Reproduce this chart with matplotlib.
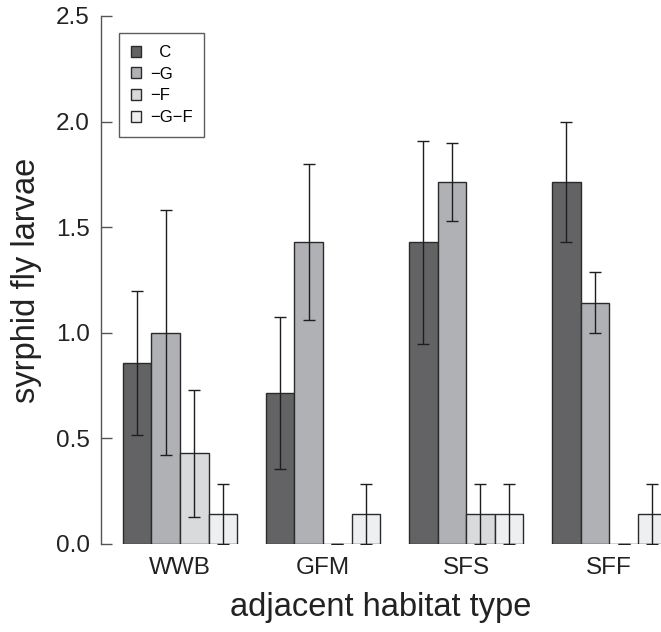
import matplotlib
matplotlib.use("Agg")
import matplotlib.pyplot as plt
import numpy as np

plt.rcParams["font.family"] = ["Liberation Sans", "DejaVu Sans"]

habitats = ["WWB", "GFM", "SFS", "SFF"]
treatments = ["C", "\u2212G", "\u2212F", "\u2212G\u2212F"]

# mean larvae per treatment, one list per habitat order above
mean_c = [0.857, 0.714, 1.429, 1.714]
mean_g = [1.000, 1.429, 1.714, 1.143]
mean_f = [0.429, 0.0, 0.143, 0.0]
mean_gf = [0.143, 0.143, 0.143, 0.143]

# standard errors
se_c = [0.340, 0.360, 0.480, 0.286]
se_g = [0.580, 0.370, 0.185, 0.143]
se_f = [0.300, 0.0, 0.143, 0.0]
se_gf = [0.143, 0.143, 0.143, 0.143]

colors = ["#636365", "#b0b1b4", "#d9dadc", "#eeeff1"]

means = [mean_c, mean_g, mean_f, mean_gf]
errs = [se_c, se_g, se_f, se_gf]

fig = plt.figure(figsize=(6.61, 6.32), dpi=100)
ax = fig.add_axes([101 / 661, 1 - 544 / 632, 560 / 661, 528 / 632])

x = np.arange(len(habitats))
width = 0.2
for i, (m, e, col, lab) in enumerate(zip(means, errs, colors, treatments)):
    pos = x - 0.3 + i * width
    ax.bar(pos, m, width, color=col, edgecolor="#2b2b2b", linewidth=1.0,
           label=lab, zorder=2)
    ax.errorbar(pos, m, yerr=e, fmt="none", ecolor="#1e1e1e",
                elinewidth=1.0, capsize=4.5, capthick=1.0, zorder=3)

ax.set_xlim(-0.552, 3.362)
ax.set_ylim(0, 2.5)
ax.set_yticks([0.0, 0.5, 1.0, 1.5, 2.0, 2.5])
ax.set_yticklabels(["0.0", "0.5", "1.0", "1.5", "2.0", "2.5"])
ax.set_xticks(x)
ax.set_xticklabels(habitats)

for side in ["top", "right", "bottom"]:
    ax.spines[side].set_visible(False)
ax.spines["left"].set_color("#555555")
ax.spines["left"].set_linewidth(1.0)
ax.tick_params(axis="y", direction="in", length=8, width=1.0, color="#555555",
               labelsize=17.5, pad=8, labelcolor="#222222")
ax.tick_params(axis="x", length=0, labelsize=17.5, pad=9, labelcolor="#222222")

ax.set_ylabel("syrphid fly larvae", fontsize=23.5, color="#222222", labelpad=10)
ax.set_xlabel("adjacent habitat type", fontsize=23.5, color="#222222", labelpad=10)

handles, labels = ax.get_legend_handles_labels()
labels = ["  C"] + labels[1:]
leg = ax.legend(handles, labels, loc="upper left", bbox_to_anchor=(0.032, 0.967),
                fontsize=12, frameon=True, fancybox=False, handlelength=0.65,
                handleheight=0.65, handletextpad=0.5, labelspacing=0.4,
                borderpad=0.7, borderaxespad=0)
leg.get_frame().set_edgecolor("#333333")
leg.get_frame().set_linewidth(1.0)

fig.savefig("out.png", dpi=100)
